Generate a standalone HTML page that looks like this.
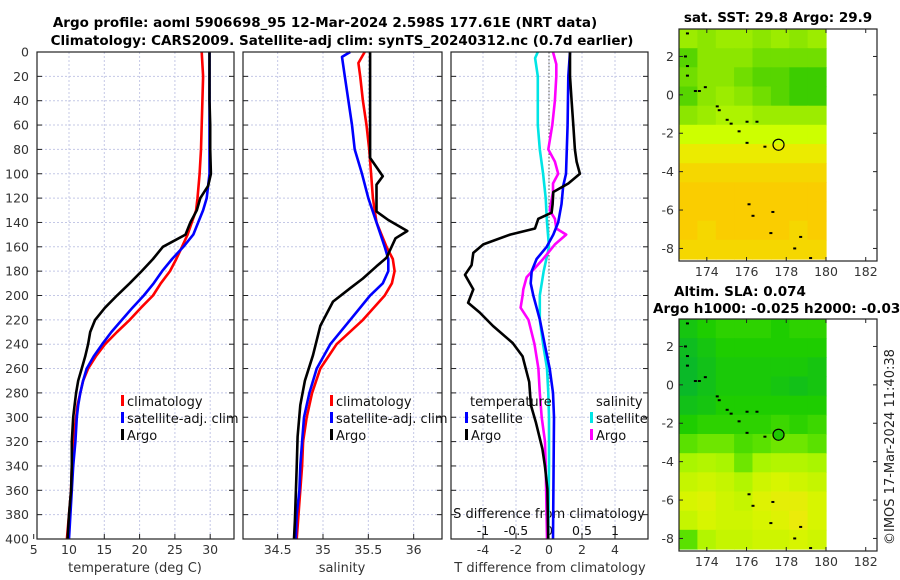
<!DOCTYPE html>
<html><head><meta charset="utf-8">
<style>
html,body{margin:0;padding:0;background:#fff;}
svg{display:block;font-family:"DejaVu Sans","Liberation Sans",sans-serif;}
</style></head>
<body>
<svg id="c" width="900" height="580" xmlns="http://www.w3.org/2000/svg">
<text x="325" y="27" text-anchor="middle" font-size="13.5" font-weight="bold" fill="#000">Argo profile: aoml 5906698_95 12-Mar-2024 2.598S 177.61E (NRT data)</text>
<text x="342" y="45" text-anchor="middle" font-size="13.5" font-weight="bold" fill="#000">Climatology: CARS2009. Satellite-adj clim: synTS_20240312.nc (0.7d earlier)</text>
<text x="778" y="22" text-anchor="middle" font-size="13.5" font-weight="bold">sat. SST: 29.8 Argo: 29.9</text>
<text x="740" y="296" text-anchor="middle" font-size="13.5" font-weight="bold">Altim. SLA: 0.074</text>
<text x="653" y="313" font-size="13.5" font-weight="bold">Argo h1000: -0.025 h2000: -0.035</text>
<text transform="translate(894,545) rotate(-90)" font-size="13" fill="#222">©IMOS 17-Mar-2024 11:40:38</text>
<g id="g"></g>
</svg>
<script>
// ---- profile data ----
const depthsT=[0,20,40,60,80,100,120,130,140,150,160,170,180,190,200,210,220,230,240,250,260,270,280,290,300,320,340,360,380,400];
const tempClim=[28.8,29.0,28.9,28.8,28.7,28.5,28.2,28.0,27.4,26.8,26.0,25.2,24.3,23.0,21.9,20.2,18.6,16.8,15.1,13.8,12.7,12.0,11.6,11.2,11.0,10.6,10.4,10.3,10.0,9.7];
const tempSat=[29.9,29.9,29.9,29.9,29.9,29.9,29.5,29.0,28.3,27.6,26.2,24.6,23.2,22.0,20.6,19.0,17.5,16.0,14.7,13.5,12.5,12.0,11.6,11.3,11.1,10.9,10.6,10.4,10.2,10.0];
const depthsArgoT=[0,20,40,60,80,100,110,120,130,140,150,160,170,180,190,200,210,220,230,240,250,260,270,280,290,300,320,340,360,380,400];
const tempArgo=[29.9,29.9,29.9,30.0,30.0,30.1,29.7,28.6,28.1,27.2,26.5,23.3,21.9,20.3,18.6,16.8,15.1,13.7,13.0,12.7,12.3,11.8,11.3,11.0,10.8,10.6,10.4,10.4,10.3,10.0,9.8];
const depthsS=[0,9,20,40,60,80,100,120,140,160,170,180,190,200,220,240,260,280,300,320,340,360,380,400];
const salClim=[35.46,35.39,35.41,35.44,35.48,35.51,35.53,35.55,35.59,35.70,35.77,35.79,35.76,35.68,35.44,35.15,34.97,34.88,34.82,34.78,34.77,34.75,34.73,34.71];
const depthsSatS=[0,4,20,40,60,80,100,120,140,160,170,180,190,200,220,240,260,280,300,320,340,360,380,400];
const salSat=[35.30,35.21,35.24,35.28,35.32,35.35,35.43,35.50,35.59,35.68,35.72,35.72,35.66,35.52,35.30,35.08,34.93,34.85,34.79,34.77,34.75,34.74,34.71,34.70];
const depthsArgoS=[0,87,102,109,131,138,147,153,169,176,186,194,205,225,249,270,290,316,341,385,400];
const salArgo=[35.52,35.52,35.66,35.59,35.59,35.72,35.93,35.80,35.70,35.59,35.44,35.30,35.11,34.97,34.89,34.80,34.75,34.72,34.71,34.69,34.68];
const depthsDT=[0,20,40,60,80,90,100,108,115,125,132,137,145,150,158,165,175,183,195,206,214,225,239,250,271,290,304,326,340,359,400];
const dTArgo=[1.27,1.27,1.37,1.47,1.57,1.67,1.87,1.17,0.26,0.22,0.16,-0.65,-0.85,-2.36,-3.98,-4.59,-4.69,-5.09,-4.59,-4.9,-4.2,-3.4,-2.2,-1.6,-1.2,-1.1,-0.8,-0.4,-0.25,-0.1,-0.05];
const depthsDTs=[0,20,60,100,110,125,140,150,160,170,180,190,200,210,220,240,260,280,300,340,400];
const dTSat=[1.27,1.17,1.13,1.03,0.86,0.76,0.56,0.26,-0.14,-0.75,-1.05,-1.11,-0.95,-0.75,-0.55,-0.26,0.04,0.24,0.30,0.28,0.24];
const depthsDSs=[0,5,20,60,80,100,120,140,160,180,200,220,240,260,280,300,340,400];
const dSSat=[-0.17,-0.21,-0.17,-0.17,-0.14,-0.09,-0.05,-0.03,0,-0.08,-0.14,-0.14,-0.09,-0.03,-0.01,0,0,-0.01];
const depthsDS=[0,10,20,40,60,80,90,100,108,115,130,137,145,150,158,170,185,195,200,210,220,240,260,280,300,320,340,400];
const dSArgo=[0.06,0.11,0.11,0.09,0.05,-0.01,0.09,0.14,0.06,0.06,0.01,0.09,0.11,0.26,0.09,-0.09,-0.34,-0.39,-0.40,-0.43,-0.31,-0.22,-0.16,-0.14,-0.11,-0.06,-0.05,-0.03];
const yTicks=[0,20,40,60,80,100,120,140,160,180,200,220,240,260,280,300,320,340,360,380,400];
const tTicks=[5,10,15,20,25,30];
const sTicks=[34.5,35,35.5,36];
const dTTicks=[-4,-2,0,2,4];
const dSTicks=[-1,-0.5,0,0.5,1];
const dSTickLabels=["-1","-0.5","0","0.5","1"];
// ---- map data (rows: lat 3 .. -8, cols: lon 172.6 .. 180) ----
const sstRow0=[29.5,29.4,29.5,29.5,29.4,29.5,29.4,29.5];
const sstRow1=[29.2,29.4,29.4,29.4,29.3,29.3,29.3,29.3];
const sstRow2=[29.3,29.4,29.4,29.3,29.2,29.2,29.1,29.1];
const sstRow3=[29.2,29.4,29.5,29.4,29.3,29.2,29.1,29.1];
const sstRow4=[29.4,29.5,29.6,29.6,29.5,29.5,29.5,29.5];
const sstRow5=[29.8,29.8,29.8,29.8,29.8,29.8,29.8,29.8];
const sstRow6=[30.0,30.0,30.0,30.0,30.0,30.0,30.0,30.0];
const sstRow7=[30.2,30.2,30.2,30.2,30.2,30.2,30.2,30.2];
const sstRow8=[30.3,30.3,30.3,30.3,30.3,30.3,30.3,30.3];
const sstRow9=[30.3,30.3,30.3,30.3,30.3,30.3,30.3,30.3];
const sstRow10=[30.3,30.2,30.3,30.3,30.3,30.3,30.2,30.3];
const sstRow11=[30.2,30.2,30.2,30.2,30.2,30.2,30.2,30.2];
const slaRow0=[0.02,0.04,0.05,0.05,0.05,0.04,0.05,0.05];
const slaRow1=[0.0,0.02,0.04,0.04,0.04,0.04,0.04,0.04];
const slaRow2=[-0.01,0.01,0.03,0.03,0.03,0.03,0.03,0.02];
const slaRow3=[-0.01,0.01,0.03,0.03,0.03,0.02,0.01,0.02];
const slaRow4=[0.01,0.02,0.04,0.04,0.04,0.04,0.04,0.04];
const slaRow5=[0.04,0.05,0.05,0.05,0.05,0.06,0.05,0.06];
const slaRow6=[0.08,0.09,0.09,0.07,0.08,0.09,0.09,0.08];
const slaRow7=[0.12,0.13,0.12,0.09,0.12,0.13,0.13,0.12];
const slaRow8=[0.15,0.16,0.15,0.13,0.16,0.17,0.16,0.15];
const slaRow9=[0.17,0.18,0.16,0.15,0.18,0.19,0.19,0.17];
const slaRow10=[0.15,0.17,0.16,0.16,0.17,0.18,0.2,0.17];
const slaRow11=[0.08,0.13,0.15,0.15,0.16,0.16,0.17,0.16];
const islandLon=[173.0,172.9,173.0,173.0,173.4,173.6,173.9,174.5,174.6,175.0,175.2,175.6,176.0,176.5,176.0,176.9,176.1,176.3,177.3,177.2,178.7,178.4,179.2];
const islandLat=[3.2,2.0,1.5,1.0,0.2,0.2,0.4,-0.6,-0.8,-1.3,-1.5,-1.9,-1.4,-1.4,-2.5,-2.7,-5.7,-6.3,-6.1,-7.2,-7.4,-8.0,-8.5];
const argoLon=177.61, argoLat=-2.598;
const lonTicks=[174,176,178,180,182];
const latTicks=[2,0,-2,-4,-6,-8];

const NS='http://www.w3.org/2000/svg';
const G=document.getElementById('g');
function el(tag,attrs,parent){const e=document.createElementNS(NS,tag);for(const k in attrs)e.setAttribute(k,attrs[k]);(parent||G).appendChild(e);return e;}
function txt(x,y,s,attrs,parent){const e=el('text',Object.assign({x:x,y:y,'font-size':12.5,fill:'#333'},attrs||{}),parent);e.textContent=s;return e;}

const TOP=52,BOT=539;
const yD=d=>TOP+d*(BOT-TOP)/400;
const xT=t=>69+(t-10)*7.06;
const xS=s=>323+(s-35)*90.67;
const xDT=v=>549+v*16.5;
const xDS=v=>549+v*66;
const panels=[{l:37,r:234,name:'temperature'},{l:243,r:442,name:'salinity'},{l:451,r:648,name:'difference'}];

panels.forEach((p,i)=>{
  const pg=el('g',{});
  
  
  yTicks.forEach(d=>{if(d>0&&d<400)el('line',{x1:p.l,x2:p.r,y1:yD(d),y2:yD(d),stroke:'#c4c8e6','stroke-width':1,'stroke-dasharray':'2,2'},pg);});
  let vx=[];
  if(i===0)vx=tTicks.map(xT);else if(i===1)vx=sTicks.map(xS);else vx=dTTicks.map(xDT);
  vx.forEach(x=>{if(x>p.l&&x<p.r)el('line',{x1:x,x2:x,y1:TOP,y2:BOT,stroke:'#c4c8e6','stroke-width':1,'stroke-dasharray':'2,2'},pg);});
  yTicks.forEach(d=>{el('line',{x1:p.l,x2:p.l+5,y1:yD(d),y2:yD(d),stroke:'#222'},pg);el('line',{x1:p.r-5,x2:p.r,y1:yD(d),y2:yD(d),stroke:'#222'},pg);});
  vx.forEach(x=>{el('line',{x1:x,x2:x,y1:BOT-5,y2:BOT,stroke:'#222'},pg);});
});
el('line',{x1:xDT(0),x2:xDT(0),y1:TOP,y2:BOT,stroke:'#555','stroke-width':1,'stroke-dasharray':'1.5,2'});

yTicks.forEach(d=>{const t=txt(29,yD(d)+4.5,String(d),{'text-anchor':'end'});

});
tTicks.forEach(v=>{const t=txt(xT(v),554,String(v),{'text-anchor':'middle'});

});
sTicks.forEach(v=>{const t=txt(xS(v),554,String(v),{'text-anchor':'middle'});

});
dTTicks.forEach(v=>{const t=txt(xDT(v),554,String(v),{'text-anchor':'middle'});

});
dSTicks.forEach((v,i)=>{
  el('line',{x1:xDS(v),x2:xDS(v),y1:BOT-6,y2:BOT,stroke:'#222'});
  const t=txt(xDS(v),535,dSTickLabels[i],{'text-anchor':'middle',fill:'#111'});
  
  
});
let a;
a=txt(135,572,'temperature (deg C)',{'text-anchor':'middle','font-size':13});


a=txt(342,572,'salinity',{'text-anchor':'middle','font-size':13});


a=txt(550,572,'T difference from climatology',{'text-anchor':'middle','font-size':13});


a=txt(549,518,'S difference from climatology',{'text-anchor':'middle','font-size':13,fill:'#111'});



function line(depths,vals,fx,color,name){
  const pts=depths.map((d,i)=>fx(vals[i]).toFixed(1)+','+yD(d).toFixed(1)).join(' ');
  const p=el('polyline',{points:pts,fill:'none',stroke:color,'stroke-width':2.6,'stroke-linejoin':'round'});
  
  
}
line(depthsT,tempClim,xT,'#ff0000','temp-climatology-line');
line(depthsT,tempSat,xT,'#0000ff','temp-satellite-line');
line(depthsArgoT,tempArgo,xT,'#000000','temp-argo-line');
line(depthsS,salClim,xS,'#ff0000','sal-climatology-line');
line(depthsSatS,salSat,xS,'#0000ff','sal-satellite-line');
line(depthsArgoS,salArgo,xS,'#000000','sal-argo-line');
line(depthsDSs,dSSat,xDS,'#00e5e5','s-diff-satellite-line');
line(depthsDS,dSArgo,xDS,'#ff00ff','s-diff-argo-line');
line(depthsDTs,dTSat,xDT,'#0000ff','t-diff-satellite-line');
line(depthsDT,dTArgo,xDT,'#000000','t-diff-argo-line');

panels.forEach(p=>{el('rect',{x:p.l,y:TOP,width:p.r-p.l,height:BOT-TOP,fill:'none',stroke:'#222','stroke-width':1.2});});

function leg(x,y,color,label,name){
  const g=el('g',{});
  
  
  el('rect',{x:x,y:y-11,width:3,height:11,fill:color},g);
  txt(x+6,y,label,{'font-size':13,fill:'#111'},g);
}
leg(121,406,'#ff0000','climatology','legend-entry-climatology');
leg(121,423,'#0000ff','satellite-adj. clim','legend-entry-satellite-adj');
leg(121,440,'#000','Argo','legend-entry-argo');
leg(330,406,'#ff0000','climatology','legend-entry-sal-climatology');
leg(330,423,'#0000ff','satellite-adj. clim','legend-entry-sal-satellite-adj');
leg(330,440,'#000','Argo','legend-entry-sal-argo');
a=txt(470,406,'temperature',{'font-size':13,fill:'#111'});


a=txt(596,406,'salinity',{'font-size':13,fill:'#111'});


leg(465,423,'#0000ff','satellite','legend-entry-t-satellite');
leg(465,440,'#000','Argo','legend-entry-t-argo');
leg(590,423,'#00e5e5','satellite','legend-entry-s-satellite');
leg(590,440,'#ff00ff','Argo','legend-entry-s-argo');

function lerp(c1,c2,f){return c1.map((v,i)=>Math.round(v+(c2[i]-v)*f));}
function cmap(stops,v){
  if(v<=stops[0][0])return stops[0][1];
  for(let i=1;i<stops.length;i++){if(v<=stops[i][0]){const f=(v-stops[i-1][0])/(stops[i][0]-stops[i-1][0]);return lerp(stops[i-1][1],stops[i][1],f);}}
  return stops[stops.length-1][1];
}
const sstStops=[[29.1,[60,205,0]],[29.4,[140,230,0]],[29.8,[205,255,0]],[30.0,[235,235,0]],[30.3,[250,205,0]]];
const slaStops=[[-0.01,[10,185,40]],[0.04,[30,205,0]],[0.08,[90,225,0]],[0.12,[170,245,0]],[0.17,[215,245,0]],[0.2,[235,235,10]]];
const sstRows=[sstRow0,sstRow1,sstRow2,sstRow3,sstRow4,sstRow5,sstRow6,sstRow7,sstRow8,sstRow9,sstRow10,sstRow11];
const slaRows=[slaRow0,slaRow1,slaRow2,slaRow3,slaRow4,slaRow5,slaRow6,slaRow7,slaRow8,slaRow9,slaRow10,slaRow11];
function drawMap(top,bot,rows,stops,name,fillCircle){
  const L=679,R=877,dataR=826;
  const latTop=3.43,latBot=-8.55;
  const boxBot=bot;
  const my=lat=>top+(latTop-lat)*((bot-2-top)/(latTop-latBot));
  const mx=lon=>L+(lon-172.6)*((dataR-L)/7.4);
  const g=el('g',{});
  
  
  const nr=rows.length,nc=rows[0].length;
  const ch=(bot-2-top)/nr,cw=(dataR-L)/nc;
  rows.forEach((r,i)=>r.forEach((v,j)=>{
    const c=cmap(stops,v);
    const cell=el('rect',{x:(L+j*cw).toFixed(1),y:(top+i*ch).toFixed(1),width:(cw+0.6).toFixed(1),height:(ch+0.6).toFixed(1),fill:'rgb('+c.join(',')+')'},g);
    
    
  }));
  islandLon.forEach((lon,i)=>{const r=el('rect',{x:mx(lon)-1,y:my(islandLat[i])-1,width:3,height:2,fill:'#000'},g);
    
    });
  const c=el('circle',{cx:mx(argoLon),cy:my(argoLat),r:5.5,fill:fillCircle?'rgb(30,200,0)':'none',stroke:'#000','stroke-width':1.2},g);
  
  
  el('rect',{x:L,y:top,width:R-L,height:boxBot-top,fill:'none',stroke:'#222','stroke-width':1.2},g);
  lonTicks.forEach(lon=>{const x=mx(lon);el('line',{x1:x,x2:x,y1:boxBot,y2:boxBot-4,stroke:'#222'},g);el('line',{x1:x,x2:x,y1:top,y2:top+4,stroke:'#222'},g);
    const t=txt(x,boxBot+15,String(lon),{'text-anchor':'middle','font-size':12.5},g);
    
    });
  latTicks.forEach(lat=>{const y=my(lat);el('line',{x1:L,x2:L+4,y1:y,y2:y,stroke:'#222'},g);el('line',{x1:R-4,x2:R,y1:y,y2:y,stroke:'#222'},g);
    const t=txt(674,y+4.5,String(lat),{'text-anchor':'end','font-size':12.5},g);
    
    });
}
drawMap(29,261,sstRows,sstStops,'sst-map',false);
drawMap(319,551,slaRows,slaStops,'sla-map',true);
</script>
</body></html>
